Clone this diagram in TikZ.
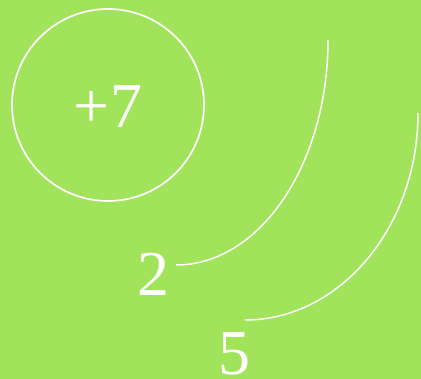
\documentclass[tikz,border=0pt]{standalone}
\usepackage{fontspec}
\setmainfont{Liberation Serif}
\definecolor{bg}{HTML}{A1E35B}
\begin{document}
\begin{tikzpicture}[x=1pt,y=-1pt,
  lbl/.style={text=white,font=\fontsize{64}{64}\selectfont,anchor=base,inner sep=0pt},
  wline/.style={draw=white,line width=1.7pt}]
\fill[bg] (0,0) rectangle (421,379);
\useasboundingbox (0,0) rectangle (421,379);
\node[wline,circle,minimum size=192pt,inner sep=0pt] (c) at (108,105) {};
\node[lbl] (p7) at (108,128) {+7};
\node[lbl] (two) at (153,296) {2};
\node[lbl] (five) at (234,375) {5};
\coordinate (a1s) at (328,40);
\coordinate (a1e) at (176,265);
\coordinate (a2s) at (418,113);
\coordinate (a2e) at (245,320);
\draw[wline,line width=1.5pt] (a1s) .. controls (328,164) and (260,265) .. (a1e);
\draw[wline,line width=1.5pt] (a2s) .. controls (418,227) and (340,320) .. (a2e);
\end{tikzpicture}
\end{document}
